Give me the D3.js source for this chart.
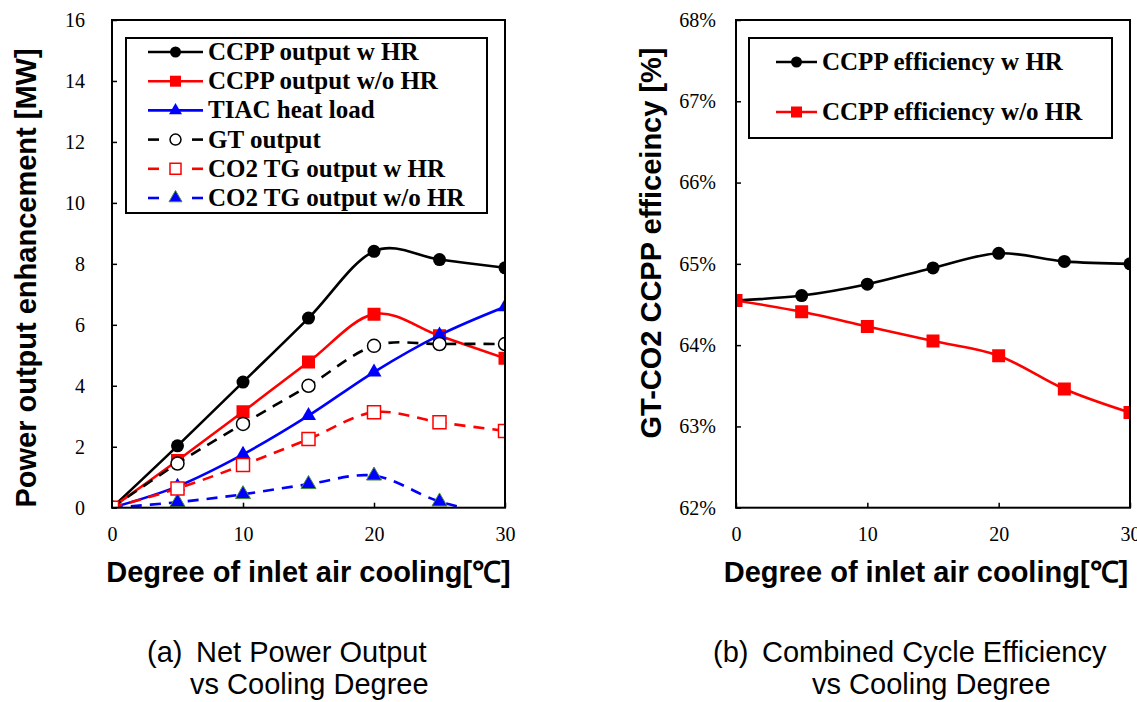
<!DOCTYPE html>
<html>
<head>
<meta charset="utf-8">
<script src="https://cdn.jsdelivr.net/npm/d3@7"></script>
<style>
  body { margin: 0; background: #fff; }
  svg { display: block; }
</style>
</head>
<body>
<div id="chart"></div>
<script>

// data
const coolingDegree = [0, 5, 10, 15, 20, 25, 30]

// (a) power output enhancement [MW]
const ccppOutputWithHR = [0, 2.03, 4.12, 6.22, 8.41, 8.14, 7.87]
const ccppOutputWithoutHR = [0, 1.55, 3.15, 4.78, 6.35, 5.64, 4.9]
const tiacHeatLoad = [0, 0.7, 1.75, 3.02, 4.45, 5.66, 6.59]
const gtOutput = [0, 1.45, 2.75, 4.0, 5.31, 5.37, 5.37]
const co2TgOutputWithHR = [0, 0.63, 1.4, 2.25, 3.13, 2.8, 2.52]
const co2TgOutputWithoutHR = [0, 0.18, 0.44, 0.77, 1.05, 0.2, -0.3]

// (b) combined cycle efficiency [%]
const ccppEffWithHR = [64.55, 64.61, 64.75, 64.95, 65.13, 65.03, 65.0]
const ccppEffWithoutHR = [64.55, 64.41, 64.23, 64.05, 63.87, 63.46, 63.17]

// tick labels
const xTicks = [0, 10, 20, 30]
const powerTicks = [0, 2, 4, 6, 8, 10, 12, 14, 16]
const effTicks = [62, 63, 64, 65, 66, 67, 68]

const legendA = [`CCPP output w HR`, `CCPP output w/o HR`, `TIAC heat load`, `GT output`, `CO2 TG output w HR`, `CO2 TG output w/o HR`]
const legendB = [`CCPP efficiency w HR`, `CCPP efficiency w/o HR`]

const captionA = [`(a)`, `Net Power Output`, `vs Cooling Degree`]
const captionB = [`(b)`, `Combined Cycle Efficiency`, `vs Cooling Degree`]


const width = 1137, height = 702
const serif = `"Times New Roman", "Liberation Serif", serif`
const sans = `Arial, "Liberation Sans", sans-serif`

const svg = d3.select(`#chart`).append(`svg`)
  .attr(`width`, width)
  .attr(`height`, height)

// excel-like smoothing
const curve = d3.curveCardinal.tension(0)


// marker shapes
function marker(g, type, x, y, size, color, filled, outline) {
  const sym = { circle: d3.symbolCircle, square: d3.symbolSquare, triangle: d3.symbolTriangle }[type]
  let area = size * size
  if(type === `circle`) area = Math.PI * (size / 2) * (size / 2)
  if(type === `triangle`) area = Math.sqrt(3) / 4 * size * size
  g.append(`path`)
    .attr(`d`, d3.symbol(sym, area)())
    .attr(`transform`, `translate(${x},${y})`)
    .attr(`fill`, filled ? color : `#fff`)
    .attr(`stroke`, outline || color)
    .attr(`stroke-width`, filled ? (outline ? 1 : 0) : 1.5)
}


// one panel
function drawPanel(cfg) {
  const x = d3.scaleLinear().domain([0, 30]).range([cfg.left, cfg.right])
  const y = d3.scaleLinear().domain(cfg.yDomain).range([cfg.bottom, cfg.top])

  const clipId = `clip-${cfg.id}`
  svg.append(`clipPath`).attr(`id`, clipId)
    .append(`rect`)
    .attr(`x`, cfg.left).attr(`y`, cfg.top)
    .attr(`width`, cfg.right - cfg.left).attr(`height`, cfg.bottom - cfg.top)

  // axes (inward ticks)
  const yAxis = svg.append(`g`)
    .attr(`transform`, `translate(${cfg.left},0)`)
    .call(d3.axisLeft(y).tickValues(cfg.yTicks).tickSize(-5).tickPadding(cfg.yPad).tickFormat(cfg.yFormat))
  const xAxis = svg.append(`g`)
    .attr(`transform`, `translate(0,${cfg.bottom})`)
    .call(d3.axisBottom(x).tickValues(xTicks).tickSize(-5).tickPadding(19))

  for(const ax of [xAxis, yAxis]) {
    ax.select(`.domain`).remove()
    ax.selectAll(`line`).attr(`stroke`, `#000`).attr(`stroke-width`, 1.5)
    ax.selectAll(`text`).attr(`font-family`, serif).attr(`font-size`, 20).attr(`fill`, `#000`)
  }

  // series
  const plot = svg.append(`g`).attr(`clip-path`, `url(#${clipId})`)
  for(const s of cfg.series) {
    const pts = coolingDegree.map((d, i) => [x(d), y(s.values[i])])
    plot.append(`path`)
      .attr(`d`, d3.line().curve(curve)(pts))
      .attr(`fill`, `none`)
      .attr(`stroke`, s.color)
      .attr(`stroke-width`, 2.6)
      .attr(`stroke-dasharray`, s.dashed ? `11,8` : null)
    for(const p of pts) marker(plot, s.marker, p[0], p[1], s.size, s.color, s.filled, s.outline)
  }

  // frame
  svg.append(`rect`)
    .attr(`x`, cfg.left).attr(`y`, cfg.top)
    .attr(`width`, cfg.right - cfg.left).attr(`height`, cfg.bottom - cfg.top)
    .attr(`fill`, `none`).attr(`stroke`, `#000`).attr(`stroke-width`, 2)

  // legend
  const lg = cfg.legend
  svg.append(`rect`)
    .attr(`x`, lg.x0).attr(`y`, lg.y0)
    .attr(`width`, lg.x1 - lg.x0).attr(`height`, lg.y1 - lg.y0)
    .attr(`fill`, `#fff`).attr(`stroke`, `#000`).attr(`stroke-width`, 2)

  cfg.legendOrder.forEach((s, i) => {
    const cy = lg.firstRow + i * lg.rowStep
    const g = svg.append(`g`)
    if(s.dashed) {
      g.append(`line`).attr(`x1`, lg.lineX0).attr(`x2`, lg.lineX0 + 11).attr(`y1`, cy).attr(`y2`, cy)
        .attr(`stroke`, s.color).attr(`stroke-width`, 2.6)
      g.append(`line`).attr(`x1`, lg.lineX1 - 11).attr(`x2`, lg.lineX1).attr(`y1`, cy).attr(`y2`, cy)
        .attr(`stroke`, s.color).attr(`stroke-width`, 2.6)
    } else {
      g.append(`line`).attr(`x1`, lg.lineX0).attr(`x2`, lg.lineX1).attr(`y1`, cy).attr(`y2`, cy)
        .attr(`stroke`, s.color).attr(`stroke-width`, 2.6)
    }
    marker(g, s.marker, (lg.lineX0 + lg.lineX1) / 2, cy, s.size - 2, s.color, s.filled, s.outline)
    g.append(`text`)
      .attr(`x`, lg.textX).attr(`y`, cy + 8)
      .attr(`font-family`, serif).attr(`font-weight`, `bold`).attr(`font-size`, 25)
      .text(s.name)
  })

  // axis titles
  svg.append(`text`)
    .attr(`x`, (cfg.left + cfg.right) / 2 + cfg.xTitleShift).attr(`y`, 582)
    .attr(`text-anchor`, `middle`)
    .attr(`font-family`, sans).attr(`font-weight`, `bold`).attr(`font-size`, 29)
    .text(`Degree of inlet air cooling[℃]`)

  svg.append(`text`)
    .attr(`transform`, `translate(${cfg.yTitleX},${cfg.yTitleY}) rotate(-90)`)
    .attr(`text-anchor`, `middle`)
    .attr(`font-family`, sans).attr(`font-weight`, `bold`).attr(`font-size`, 29)
    .text(cfg.yTitle)

  // caption
  const cap = cfg.caption
  svg.append(`text`).attr(`x`, cfg.capX[0]).attr(`y`, 662)
    .attr(`font-family`, sans).attr(`font-size`, 29).text(cap[0])
  svg.append(`text`).attr(`x`, cfg.capX[1]).attr(`y`, 662)
    .attr(`font-family`, sans).attr(`font-size`, 29).text(cap[1])
  svg.append(`text`).attr(`x`, cfg.capX[2]).attr(`y`, 694)
    .attr(`font-family`, sans).attr(`font-size`, 29).text(cap[2])
}


// series styles
const sA = [
  { name: legendA[0], values: ccppOutputWithHR, color: `#000`, marker: `circle`, size: 13, filled: true },
  { name: legendA[1], values: ccppOutputWithoutHR, color: `#ff0000`, marker: `square`, size: 13, filled: true },
  { name: legendA[2], values: tiacHeatLoad, color: `#0000ff`, marker: `triangle`, size: 15, filled: true },
  { name: legendA[3], values: gtOutput, color: `#000`, marker: `circle`, size: 13, filled: false, dashed: true },
  { name: legendA[4], values: co2TgOutputWithHR, color: `#ff0000`, marker: `square`, size: 13, filled: false, dashed: true },
  { name: legendA[5], values: co2TgOutputWithoutHR, color: `#0000ff`, marker: `triangle`, size: 15, filled: true, dashed: true, outline: `#4a8a3a` }
]

const sB = [
  { name: legendB[0], values: ccppEffWithHR, color: `#000`, marker: `circle`, size: 13, filled: true },
  { name: legendB[1], values: ccppEffWithoutHR, color: `#ff0000`, marker: `square`, size: 13, filled: true }
]

drawPanel({
  id: `a`, left: 112, right: 505, top: 20, bottom: 507.7,
  yDomain: [0, 16], yTicks: powerTicks, yPad: 27, yFormat: d => d,
  series: [sA[0], sA[1], sA[2], sA[3], sA[5], sA[4]],
  legendOrder: sA,
  legend: { x0: 126, x1: 487, y0: 38, y1: 213, firstRow: 52, rowStep: 29.2, lineX0: 148, lineX1: 203, textX: 208 },
  xTitleShift: 0, yTitle: `Power output enhancement [MW]`, yTitleX: 36, yTitleY: 278,
  caption: captionA, capX: [147, 196, 190]
})

drawPanel({
  id: `b`, left: 736, right: 1130, top: 20, bottom: 507.7,
  yDomain: [62, 68], yTicks: effTicks, yPad: 20, yFormat: d => `${d}%`,
  series: sB,
  legendOrder: sB,
  legend: { x0: 749, x1: 1112, y0: 38, y1: 138, firstRow: 62, rowStep: 50, lineX0: 776, lineX1: 817, textX: 822 },
  xTitleShift: -7, yTitle: `GT-CO2 CCPP efficeincy [%]`, yTitleX: 661, yTitleY: 243,
  caption: captionB, capX: [713, 762, 812]
})

</script>
</body>
</html>
